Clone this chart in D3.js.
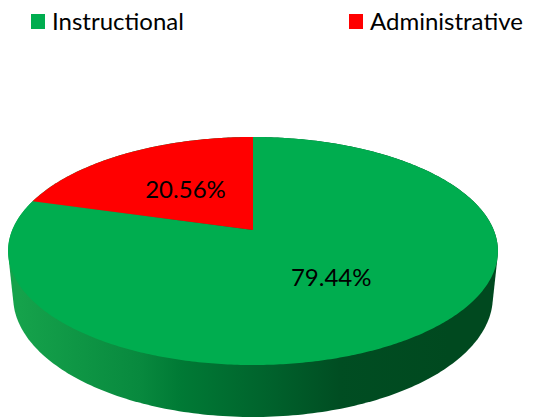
<!DOCTYPE html>
<html>
<head>
<meta charset="utf-8">
<script src="https://cdn.jsdelivr.net/npm/d3@7"></script>
<style>
  body { margin: 0; background: #fff; }
  text { font-family: Lato, "Open Sans", sans-serif; fill: #000; }
</style>
</head>
<body>
<div class="chart"></div>
<script>
// Data
const categories = ['Instructional', 'Administrative']
const shares = [79.44, 20.56]

const width = 544
const height = 417

// perspective settings for the tilted disc
const cx = 253, cy = 230
const focal = 1162, dist = 4.827
const tilt = 27.23 * Math.PI / 180
const thick = 0.216
const cosA = Math.cos(tilt), sinA = Math.sin(tilt)

// x = right, y = up, z = away from viewer
const project = (x, y, z) => {
  const v = y * cosA + z * sinA
  const w = dist + z * cosA - y * sinA
  return [cx + focal * x / w, cy - focal * v / w]
}
// pie angle is clockwise from the far point (12 o'clock)
const rim = (a, r, y) => project(r * Math.sin(a), y, r * Math.cos(a))

const color = d3.scaleOrdinal().domain(categories).range(['#00AD4F', '#FF0000'])
const fmt = d3.format('.2f')

const pie = d3.pie().sort(null).value(d => d.value)
const arcs = pie(categories.map((c, i) => ({ name: c, value: shares[i] })))

const svg = d3.select('.chart').append('svg')
  .attr('width', width)
  .attr('height', height)

// side gradient
const hullPts = []
d3.range(0, 360, 1).forEach(deg => {
  const a = deg * Math.PI / 180
  hullPts.push(rim(a, 1, 0), rim(a, 1, -thick))
})
const hull = d3.polygonHull(hullPts)
const xExt = d3.extent(hull, p => p[0])
const gx = d3.scaleLinear().domain(xExt).range([0, 1])

const grad = svg.append('defs').append('linearGradient')
  .attr('id', 'side')
  .attr('gradientUnits', 'userSpaceOnUse')
  .attr('x1', xExt[0]).attr('x2', xExt[1])
  .attr('y1', 0).attr('y2', 0)
const stops = [[20, '#15a24b'], [140, '#08893e'], [180, '#007a35'], [270, '#00622c'], [340, '#004d22'], [450, '#00491f']]
grad.selectAll('stop').data(stops).join('stop')
  .attr('offset', d => Math.max(0, Math.min(1, gx(d[0]))))
  .attr('stop-color', d => d[1])

svg.append('path')
  .attr('d', 'M' + hull.map(p => p.join(',')).join('L') + 'Z')
  .attr('fill', 'url(#side)')

// top face slices
const slicePath = d => {
  const n = Math.max(2, Math.ceil((d.endAngle - d.startAngle) * 90))
  const pts = [project(0, 0, 0)]
  d3.range(n + 1).forEach(i => {
    pts.push(rim(d.startAngle + (d.endAngle - d.startAngle) * i / n, 1, 0))
  })
  return 'M' + pts.map(p => p.join(',')).join('L') + 'Z'
}

svg.append('g').selectAll('path').data(arcs).join('path')
  .attr('d', slicePath)
  .attr('fill', d => color(d.data.name))

// labels
svg.append('g').selectAll('text').data(arcs).join('text')
  .attr('x', d => rim((d.startAngle + d.endAngle) / 2, 0.5, 0)[0])
  .attr('y', d => rim((d.startAngle + d.endAngle) / 2, 0.5, 0)[1])
  .attr('dy', '0.36em')
  .attr('text-anchor', 'middle')
  .style('font-size', '24px')
  .text(d => fmt(d.data.value) + '%')

// legend
const legendX = d3.scalePoint().domain(categories).range([31, 349])
const legend = svg.append('g').selectAll('g').data(categories).join('g')
  .attr('transform', d => `translate(${legendX(d)},14)`)
legend.append('rect')
  .attr('width', 14).attr('height', 15)
  .attr('fill', d => color(d))
legend.append('text')
  .attr('x', 21).attr('y', 16)
  .style('font-size', '24px')
  .text(d => d)
</script>
</body>
</html>
